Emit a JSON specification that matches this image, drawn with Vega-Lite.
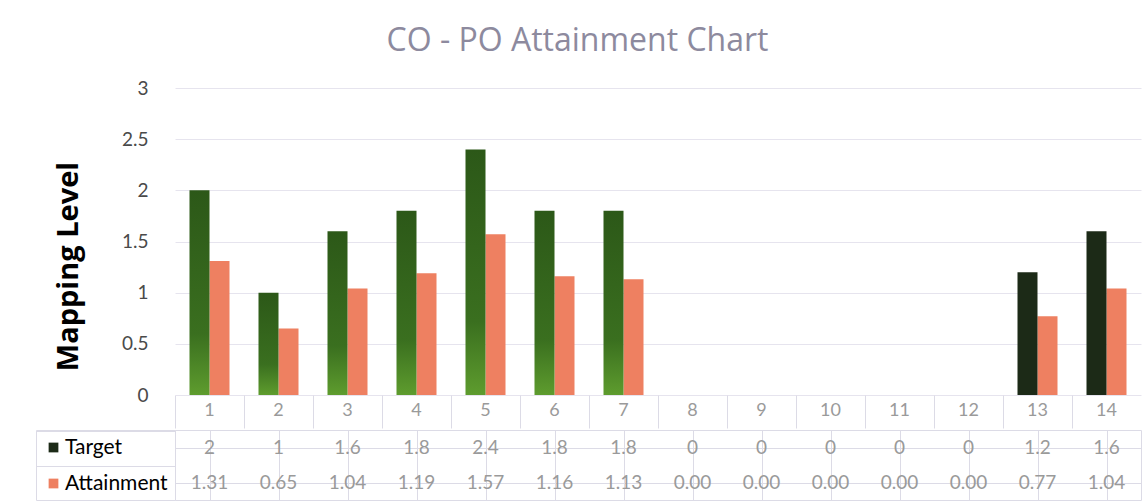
{
  "$schema": "https://vega.github.io/schema/vega-lite/v6.json",
  "padding": {"left": 35, "top": 25, "right": 0, "bottom": 0},
  "bounds": "flush",
  "title": {"text": "CO - PO Attainment Chart", "fontSize": 32, "font": "Open Sans", "color": "#8d8a9e", "fontWeight": "normal", "anchor": "middle", "offset": 21, "dx": -11},
  "datasets": {
    "d": [
      {"po": 1, "series": "Target", "value": 2},
      {"po": 2, "series": "Target", "value": 1},
      {"po": 3, "series": "Target", "value": 1.6},
      {"po": 4, "series": "Target", "value": 1.8},
      {"po": 5, "series": "Target", "value": 2.4},
      {"po": 6, "series": "Target", "value": 1.8},
      {"po": 7, "series": "Target", "value": 1.8},
      {"po": 8, "series": "Target", "value": 0},
      {"po": 9, "series": "Target", "value": 0},
      {"po": 10, "series": "Target", "value": 0},
      {"po": 11, "series": "Target", "value": 0},
      {"po": 12, "series": "Target", "value": 0},
      {"po": 13, "series": "Target", "value": 1.2},
      {"po": 14, "series": "Target", "value": 1.6},
      {"po": 1, "series": "Attainment", "value": 1.31},
      {"po": 2, "series": "Attainment", "value": 0.65},
      {"po": 3, "series": "Attainment", "value": 1.04},
      {"po": 4, "series": "Attainment", "value": 1.19},
      {"po": 5, "series": "Attainment", "value": 1.57},
      {"po": 6, "series": "Attainment", "value": 1.16},
      {"po": 7, "series": "Attainment", "value": 1.13},
      {"po": 8, "series": "Attainment", "value": 0},
      {"po": 9, "series": "Attainment", "value": 0},
      {"po": 10, "series": "Attainment", "value": 0},
      {"po": 11, "series": "Attainment", "value": 0},
      {"po": 12, "series": "Attainment", "value": 0},
      {"po": 13, "series": "Attainment", "value": 0.77},
      {"po": 14, "series": "Attainment", "value": 1.04}
    ]
  },
  "columns": 2,
  "spacing": {"row": 35, "column": 0},
  "resolve": {"legend": {"color": "independent"}, "scale": {"color": "independent"}},
  "concat": [
    {
      "width": 139,
      "height": 307,
      "data": {"values": []},
      "mark": "point"
    },
    {
      "width": 966,
      "height": 307,
      "data": {"name": "d"},
      "encoding": {
        "x": {
          "field": "po", "type": "ordinal",
          "scale": {"paddingInner": 0, "paddingOuter": 0},
          "axis": {"title": null, "domain": false, "ticks": true, "tickSize": 33, "tickColor": "#dcdbe6", "bandPosition": 0, "labelAngle": 0, "labelFontSize": 18, "labelColor": "#9a9a9a", "labelPadding": -27, "labelFont": "Lato", "grid": false}
        },
        "xOffset": {
          "field": "series", "type": "nominal",
          "scale": {"domain": ["Target", "Attainment"], "paddingOuter": 0.725, "paddingInner": 0}
        },
        "y": {
          "field": "value", "type": "quantitative",
          "scale": {"domain": [0, 3]},
          "axis": {"title": "Mapping Level", "values": [0, 0.5, 1, 1.5, 2, 2.5, 3], "format": "~g", "labelFontSize": 19, "labelColor": "#4a4a4a", "labelFont": "Lato", "labelPadding": 27, "ticks": false, "domain": false, "gridColor": "#e6e4ee", "titleFontSize": 29, "titleFontWeight": "bold", "titleColor": "#000000", "titleFont": "Open Sans", "titlePadding": 38, "titleY": 178}
        }
      },
      "layer": [
        {
          "transform": [{"filter": "datum.series == 'Attainment'"}],
          "mark": {"type": "bar", "color": "#ee8061"}
        },
        {
          "transform": [{"filter": "datum.series == 'Target' && datum.po <= 7"}],
          "mark": {"type": "bar", "color": {"gradient": "linear", "x1": 0, "y1": 0, "x2": 0, "y2": 1, "stops": [{"offset": 0, "color": "#2c5818"}, {"offset": 0.7, "color": "#3a6f1f"}, {"offset": 1, "color": "#5e9c2e"}]}}
        },
        {
          "transform": [{"filter": "datum.series == 'Target' && datum.po >= 13"}],
          "mark": {"type": "bar", "color": "#1c2a17"}
        }
      ]
    },
    {
      "width": 139,
      "height": 70,
      "data": {"name": "d"},
      "transform": [{"filter": "datum.po == 1"}],
      "mark": {"type": "bar", "opacity": 0},
      "encoding": {
        "y": {"field": "series", "type": "nominal", "sort": ["Target", "Attainment"], "axis": {"title": null, "labels": false, "ticks": false, "domain": false, "grid": true, "bandPosition": 0, "gridColor": "#dcdbe6"}},
        "color": {
          "field": "series", "type": "nominal",
          "scale": {"domain": ["Target", "Attainment"], "range": ["#1c2a17", "#ee8061"]},
          "legend": {"orient": "top-left", "title": null, "symbolType": "square", "symbolSize": 95, "symbolOpacity": 1, "symbolStrokeWidth": 0, "labelFontSize": 21, "labelColor": "#000000", "labelFont": "Lato", "rowPadding": 14, "offset": 7, "padding": 0, "labelOffset": 1}
        }
      },
      "view": {"stroke": "#dcdbe6"}
    },
    {
      "width": 966,
      "height": 70,
      "data": {"name": "d"},
      "encoding": {
        "x": {"field": "po", "type": "ordinal", "scale": {"paddingInner": 0, "paddingOuter": 0}, "axis": {"title": null, "labels": false, "ticks": false, "domain": false, "grid": true, "bandPosition": 0, "gridColor": "#dcdbe6"}},
        "y": {"field": "series", "type": "nominal", "sort": ["Target", "Attainment"], "axis": {"title": null, "labels": false, "ticks": false, "domain": false, "grid": true, "bandPosition": 0, "gridColor": "#dcdbe6"}}
      },
      "layer": [
        {
          "transform": [{"filter": "datum.series == 'Target'"}],
          "mark": {"type": "text", "fontSize": 19, "font": "Lato", "color": "#9a9a9a"},
          "encoding": {"text": {"field": "value", "type": "nominal"}}
        },
        {
          "transform": [{"filter": "datum.series == 'Attainment'"}],
          "mark": {"type": "text", "fontSize": 19, "font": "Lato", "color": "#9a9a9a"},
          "encoding": {"text": {"field": "value", "type": "quantitative", "format": ".2f"}}
        }
      ],
      "view": {"stroke": "#dcdbe6"}
    }
  ],
  "config": {"view": {"stroke": null}, "font": "Lato"}
}
